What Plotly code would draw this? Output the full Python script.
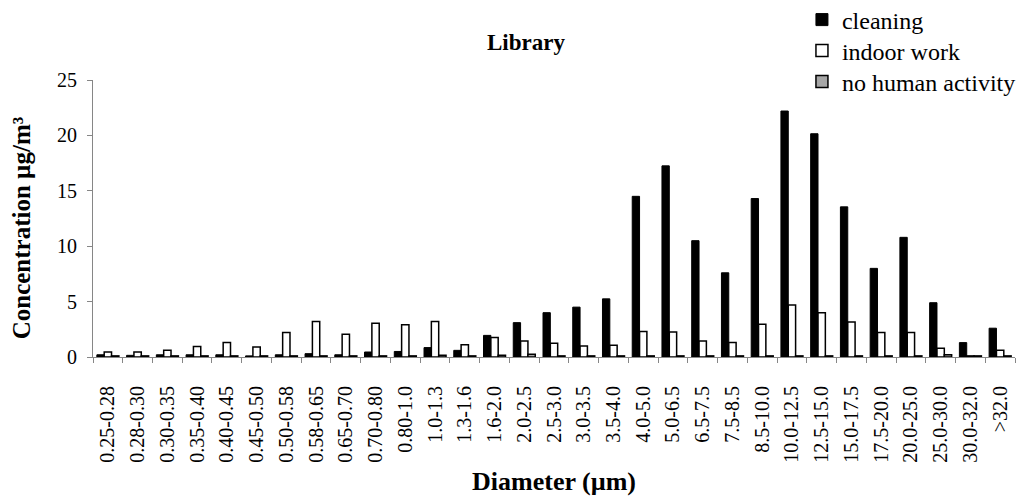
import plotly.graph_objects as go

categories = ["0.25-0.28", "0.28-0.30", "0.30-0.35", "0.35-0.40", "0.40-0.45", "0.45-0.50",
              "0.50-0.58", "0.58-0.65", "0.65-0.70", "0.70-0.80", "0.80-1.0", "1.0-1.3",
              "1.3-1.6", "1.6-2.0", "2.0-2.5", "2.5-3.0", "3.0-3.5", "3.5-4.0", "4.0-5.0",
              "5.0-6.5", "6.5-7.5", "7.5-8.5", "8.5-10.0", "10.0-12.5", "12.5-15.0",
              "15.0-17.5", "17.5-20.0", "20.0-25.0", "25.0-30.0", "30.0-32.0", ">32.0"]

cleaning = [0.2, 0.15, 0.2, 0.2, 0.2, 0.1, 0.2, 0.3, 0.2, 0.45, 0.5, 0.85, 0.6, 1.95,
            3.1, 4.0, 4.5, 5.25, 14.5, 17.25, 10.5, 7.6, 14.3, 22.2, 20.15, 13.55,
            8.0, 10.8, 4.9, 1.3, 2.6]

indoor_work = [0.45, 0.45, 0.6, 0.95, 1.3, 0.9, 2.2, 3.2, 2.05, 3.05, 2.9, 3.2, 1.1, 1.75,
               1.45, 1.25, 1.0, 1.05, 2.3, 2.25, 1.45, 1.3, 2.95, 4.7, 4.0, 3.15,
               2.2, 2.2, 0.8, 0.1, 0.6]

no_human = [0.1, 0.1, 0.1, 0.1, 0.1, 0.1, 0.1, 0.1, 0.1, 0.1, 0.1, 0.15, 0.1, 0.15,
            0.25, 0.1, 0.1, 0.1, 0.1, 0.1, 0.1, 0.1, 0.1, 0.1, 0.1, 0.1,
            0.1, 0.1, 0.2, 0.1, 0.1]

y_ticks = [0, 5, 10, 15, 20, 25]

FONT = "Liberation Serif, Times New Roman, serif"

fig = go.Figure()
fig.add_trace(go.Bar(name="cleaning", x=categories, y=cleaning, legend="legend",
                     marker=dict(color="#000000", line=dict(color="#000000", width=1))))
fig.add_trace(go.Bar(name="indoor work", x=categories, y=indoor_work, legend="legend2",
                     marker=dict(color="#ffffff", line=dict(color="#000000", width=1.5))))
fig.add_trace(go.Bar(name="no human activity", x=categories, y=no_human, legend="legend3",
                     marker=dict(color="#a6a6a6", line=dict(color="#000000", width=1.5))))


def legend_box(y_center):
    return dict(xref="container", yref="container", x=0.787, y=1 - y_center / 502,
                xanchor="left", yanchor="middle",
                font=dict(family=FONT, size=24, color="#000000"),
                bgcolor="rgba(0,0,0,0)", itemwidth=30)


fig.update_layout(
    width=1019, height=502,
    margin=dict(l=93, r=4, t=80, b=145, autoexpand=False),
    paper_bgcolor="white", plot_bgcolor="white",
    barmode="group", bargap=0.26, bargroupgap=0,
    font=dict(family=FONT, size=20, color="#000000"),
    showlegend=True,
    legend=legend_box(20),
    legend2=legend_box(51),
    legend3=legend_box(82),
    annotations=[
        dict(text="<b>Library</b>", xref="paper", yref="paper",
             x=0.4696, y=1.135, xanchor="center", yanchor="middle",
             showarrow=False, font=dict(family=FONT, size=23, color="#000000")),
        dict(text="<b>Concentration µg/m³</b>", xref="paper", yref="paper",
             x=-0.078, y=0.465, xanchor="center", yanchor="middle", textangle=-90,
             showarrow=False, font=dict(family=FONT, size=25, color="#000000")),
    ],
)

fig.update_xaxes(
    type="category", tickangle=-90, tickson="boundaries", automargin=False,
    ticks="outside", ticklen=5, tickcolor="#868686", ticklabelstandoff=20,
    showline=True, linecolor="#868686", linewidth=1,
    showgrid=False, tickfont=dict(family=FONT, size=20),
    title=dict(text="<b>Diameter (µm)</b>", font=dict(family=FONT, size=26), standoff=10),
)
fig.update_yaxes(
    range=[0, 25], tickvals=y_ticks, automargin=False,
    ticks="outside", ticklen=5, tickcolor="#868686", ticklabelstandoff=6,
    showline=True, linecolor="#868686", linewidth=1,
    showgrid=False, zeroline=False, tickfont=dict(family=FONT, size=20),
)

fig.write_html("out.html", config={"displayModeBar": False},
               post_script="document.body.style.margin='0';document.body.style.overflow='hidden';")
